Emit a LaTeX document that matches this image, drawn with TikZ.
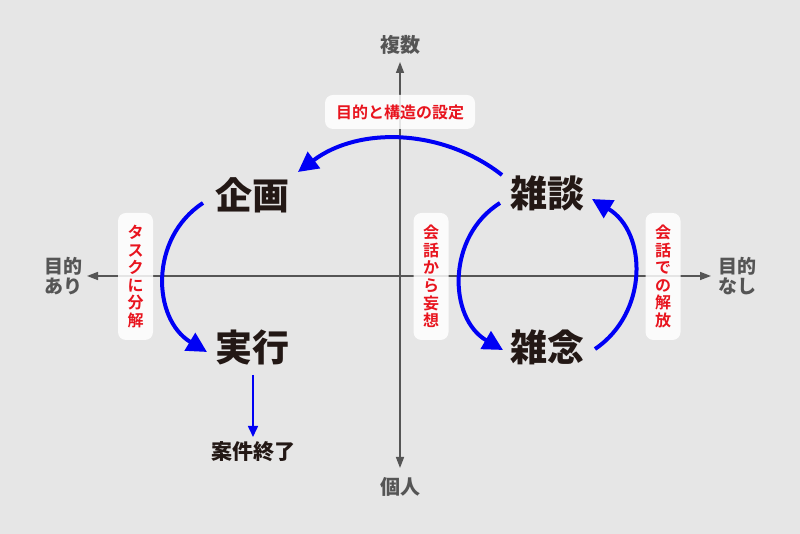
\documentclass[tikz,border=0pt]{standalone}
\usepackage{fontspec}
\usetikzlibrary{arrows.meta}
\newfontfamily\jp{Noto Sans CJK JP}[BoldFont={Noto Sans CJK JP Bold}]
\newfontfamily\jpblack{Noto Sans CJK JP Black}
\definecolor{bg}{HTML}{E6E6E6}
\definecolor{axisgray}{HTML}{555555}
\definecolor{lblred}{HTML}{E8141E}
\definecolor{arcblue}{HTML}{0000F5}
\definecolor{termblack}{HTML}{231815}
\tikzset{
  axisline/.style={draw=axisgray, line width=1.5pt, -{Triangle[length=11pt,width=8pt]}},
  axislabel/.style={text=axisgray, font=\jpblack\fontsize{20}{21}\selectfont, align=center, inner sep=0pt},
  term/.style={text=termblack, font=\jpblack\fontsize{37}{40}\selectfont, inner sep=0pt},
  endterm/.style={text=termblack, font=\jpblack\fontsize{21}{24}\selectfont, inner sep=0pt},
  lblbox/.style={fill=white, fill opacity=0.85, text opacity=1, rounded corners=8pt, text=lblred,
     font=\jp\bfseries\fontsize{16}{17.6}\selectfont, align=center, inner sep=0pt},
  loop/.style={draw=arcblue, line width=4pt, -{Triangle[length=20pt,width=20pt]}},
  thinarrow/.style={draw=arcblue, line width=1.6pt, -{Triangle[length=11pt,width=10pt]}}
}
\begin{document}
\begin{tikzpicture}[x=1pt,y=1pt]
\fill[bg] (0,0) rectangle (800,534);
\useasboundingbox (0,0) rectangle (800,534);
% axes
\coordinate (vb) at (400,66);
\coordinate (vt) at (400,472);
\coordinate (hr) at (711,258);
\coordinate (hl) at (87,258);
\coordinate (vc) at (400,258);
\draw[axisline] (vc) -- (vt);
\draw[axisline] (vc) -- (vb);
\draw[axisline] (vc) -- (hr);
\draw[axisline] (vc) -- (hl);
\node[axislabel] (fukusu) at (400,489) {複数};
\node[axislabel] (kojin) at (400,47) {個人};
\node[axislabel, font=\jpblack\fontsize{19}{19.5}\selectfont] (ari) at (63,258) {目的\\あり};
\node[axislabel, font=\jpblack\fontsize{19}{19.5}\selectfont] (nashi) at (737,258) {目的\\なし};
% label boxes
\node[lblbox, minimum width=150pt, minimum height=34pt] (setei) at (400,422) {目的と構造の設定};
\node[lblbox, minimum width=35pt, minimum height=127pt] (bunkai) at (135.5,257.5) {タ\\ス\\ク\\に\\分\\解};
\node[lblbox, minimum width=35pt, minimum height=127pt] (moso) at (431,257.5) {会\\話\\か\\ら\\妄\\想};
\node[lblbox, minimum width=35pt, minimum height=127pt] (kaiho) at (663,257.5) {会\\話\\で\\の\\解\\放};
% terms
\node[term] (kikaku) at (252,339) {企画};
\node[term] (jikko) at (252,186) {実行};
\node[term] (zatsudan) at (547,341) {雑談};
\node[term] (zatsunen) at (547,187) {雑念};
\node[endterm] (shuryo) at (253,82) {案件終了};
% arc endpoints
\coordinate (a1s) at (502,359);
\coordinate (a1e) at (298,362);
\coordinate (a2s) at (203,331);
\coordinate (a2e) at (207,182);
\coordinate (a3s) at (500,331);
\coordinate (a3e) at (503,184);
\coordinate (a4s) at (595,185);
\coordinate (a4e) at (592,335);
\draw[loop] (a1s) to[out=142, in=37, looseness=0.95] (a1e);
\draw[loop] (a2s) to[out=213, in=149, looseness=1.1] (a2e);
\draw[loop] (a3s) to[out=212, in=150, looseness=1.1] (a3e);
\draw[loop] (a4s) to[out=34, in=329, looseness=1.1] (a4e);
\coordinate (ts) at (253,159);
\coordinate (te) at (253,97);
\draw[thinarrow] (ts) -- (te);
\end{tikzpicture}
\end{document}
